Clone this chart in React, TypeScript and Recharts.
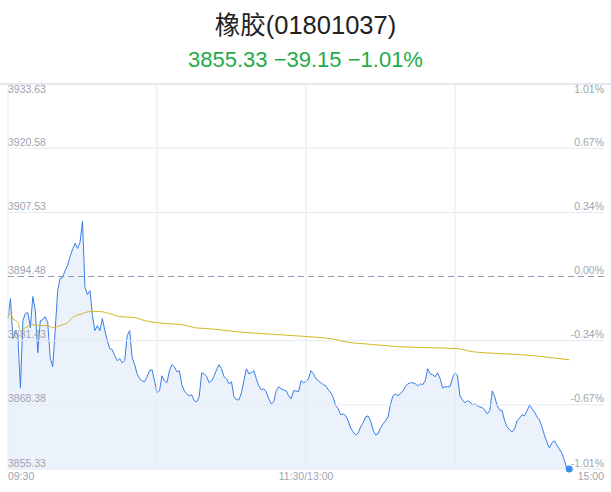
import {
  ComposedChart,
  Area,
  Line,
  XAxis,
  YAxis,
  ReferenceLine,
  ReferenceDot,
} from "recharts";

const title = "橡胶(01801037)";
const subtitle = "3855.33 −39.15 −1.01%";

const prevClose = 3894.48;
const priceTicks = [3855.33, 3868.38, 3881.43, 3894.48, 3907.53, 3920.58, 3933.63];
const pctLabels = ["-1.01%", "-0.67%", "-0.34%", "0.00%", "0.34%", "0.67%", "1.01%"];
const timeTicks = [0, 120, 240];
const timeLabels = ["09:30", "11:30/13:00", "15:00"];
const gridMinutes = [0, 60, 120, 180];

// one value per minute from 09:30
const prices = [
  3885.92, 3889.99, 3881.84, 3883.47, 3882.24, 3871.85, 3885.51, 3886.93, 3887.14, 3884.08,
  3890.4, 3887.55, 3878.98, 3885.51, 3885.71, 3886.32, 3885.1, 3877.96, 3876.13, 3883.47,
  3891.62, 3894.07, 3894.27, 3895.7, 3896.72, 3898.56, 3899.98, 3901.21, 3900.19, 3901.41,
  3905.69, 3892.24, 3890.81, 3891.62, 3886.53, 3883.47, 3884.49, 3883.47, 3885.92, 3883.47,
  3881.43, 3879.8, 3879.59, 3878.37, 3877.35, 3877.76, 3876.94, 3877.35, 3882.45, 3883.47,
  3877.96, 3876.54, 3874.7, 3873.68, 3873.27, 3873.07, 3874.09, 3875.31, 3875.52, 3873.27,
  3870.83, 3871.23, 3874.29, 3873.27, 3872.87, 3875.31, 3876.54, 3876.13, 3875.11, 3875.31,
  3872.46, 3871.23, 3870.62, 3870.21, 3870.42, 3869.2, 3868.99, 3870.01, 3874.9, 3874.7,
  3874.09, 3872.87, 3873.27, 3874.29, 3875.52, 3876.54, 3875.72, 3874.09, 3873.68, 3872.66,
  3873.07, 3870.01, 3869.4, 3869.4, 3870.83, 3873.27, 3875.72, 3874.7, 3874.9, 3875.31,
  3873.68, 3872.25, 3871.44, 3871.64, 3871.03, 3869.6, 3868.58, 3868.99, 3871.23, 3872.05,
  3871.64, 3871.44, 3871.23, 3870.21, 3869.6, 3871.23, 3871.23, 3871.03, 3873.27, 3872.87,
  3873.07, 3873.68, 3875.31, 3874.7, 3873.68, 3873.27, 3872.87, 3872.46, 3872.25, 3871.44,
  3870.83, 3869.81, 3868.18, 3867.56, 3866.34, 3866.54, 3866.14, 3865.12, 3863.69, 3862.87,
  3862.26, 3862.67, 3863.89, 3864.71, 3865.93, 3866.14, 3865.12, 3863.28, 3862.26, 3862.47,
  3863.69, 3864.51, 3865.12, 3865.93, 3868.38, 3870.21, 3870.62, 3870.21, 3870.62, 3871.23,
  3872.05, 3872.66, 3872.87, 3872.87, 3872.66, 3872.25, 3872.66, 3872.46, 3873.27, 3875.72,
  3874.7, 3874.5, 3874.09, 3874.9, 3873.68, 3871.85, 3872.05, 3872.05, 3872.05, 3873.88,
  3874.9, 3874.29, 3870.21, 3869.4, 3868.79, 3869.2, 3868.99, 3868.38, 3868.58, 3868.18,
  3867.97, 3867.77, 3867.36, 3866.54, 3867.16, 3871.23, 3870.01, 3868.18, 3867.36, 3867.16,
  3865.12, 3863.89, 3863.28, 3862.87, 3863.49, 3865.12, 3865.73, 3866.34, 3866.14, 3867.16,
  3868.38, 3867.56, 3866.95, 3865.93, 3865.32, 3863.89, 3862.26, 3860.84, 3859.61, 3860.63,
  3861.04, 3860.22, 3859.41, 3858.59, 3857.17, 3855.53, 3855.33,
];

// average price line, read at these minutes
const avgMinutes = [
  0, 1, 2, 4, 5, 7, 9, 10, 13, 16, 18, 21, 24, 26, 30, 33, 37, 41, 45, 51, 55, 60, 64, 70,
  75, 80, 85, 88, 109, 121, 130, 138, 143, 157, 170, 181, 187, 199, 212, 219, 226,
];
const avgValues = [
  3886.32, 3886.93, 3885.92, 3885.1, 3883.47, 3884.08, 3884.49, 3884.69, 3884.49, 3884.49,
  3884.08, 3884.49, 3885.1, 3886.12, 3886.93, 3887.34, 3887.34, 3886.93, 3886.32, 3886.12,
  3885.51, 3885.1, 3884.9, 3884.69, 3884.08, 3883.88, 3883.67, 3883.47, 3882.65, 3882.24,
  3881.84, 3881.02, 3880.82, 3880.21, 3880.0, 3879.8, 3879.19, 3878.78, 3878.37, 3877.96,
  3877.56,
];

const data = prices.map((price, t) => {
  const k = avgMinutes.indexOf(t);
  return { t, price, avg: k >= 0 ? avgValues[k] : null };
});

const lastT = prices.length - 1;
const labelFont = '"Liberation Sans", Arial, sans-serif';
const labelColor = "#9ea4b0";
const gridColor = "#e6e9ef";

function PriceTick(props: any) {
  const { y, payload } = props;
  const i = priceTicks.indexOf(payload.value);
  const ty = i === priceTicks.length - 1 ? y + 8.5 : y - 2.5;
  return (
    <g>
      <text x={8} y={ty} fontSize={10.5} fill={labelColor} fontFamily={labelFont} textAnchor="start">
        {payload.value.toFixed(2)}
      </text>
      <text x={604} y={ty} fontSize={10.5} fill={labelColor} fontFamily={labelFont} textAnchor="end">
        {pctLabels[i]}
      </text>
    </g>
  );
}

function TimeTick(props: any) {
  const { x, payload } = props;
  const i = timeTicks.indexOf(payload.value);
  const anchor = i === 0 ? "start" : i === timeTicks.length - 1 ? "end" : "middle";
  return (
    <text x={x} y={480} fontSize={10.5} fill={labelColor} fontFamily={labelFont} textAnchor={anchor}>
      {timeLabels[i]}
    </text>
  );
}

export default function App() {
  return (
    <div style={{ position: "absolute", left: 0, top: 0, width: 611, height: 492, background: "#fff" }}>
      <div
        style={{
          position: "absolute",
          top: 8,
          width: 611,
          textAlign: "center",
          fontSize: 25.5,
          lineHeight: "34px",
          color: "#222",
          fontFamily: '"Liberation Sans", "Noto Sans CJK SC", sans-serif',
        }}
      >
        {title}
      </div>
      <div
        style={{
          position: "absolute",
          top: 46,
          width: 611,
          textAlign: "center",
          fontSize: 22,
          lineHeight: "28px",
          color: "#1fab48",
          fontFamily: '"Liberation Sans", sans-serif',
        }}
      >
        {subtitle}
      </div>
      <div style={{ position: "absolute", top: 83, left: 0, width: 611, height: 2, background: "#e4e6eb" }} />
      <div style={{ position: "absolute", top: 0, left: 0 }}>
        <ComposedChart width={611} height={492} data={data} margin={{ top: 84, right: 7, bottom: 3, left: 8 }}>
          <XAxis
            dataKey="t"
            type="number"
            domain={[0, 240]}
            ticks={timeTicks}
            interval={0}
            axisLine={false}
            tickLine={false}
            height={20}
            tick={TimeTick}
          />
          <YAxis
            domain={[priceTicks[0], priceTicks[priceTicks.length - 1]]}
            ticks={priceTicks}
            interval={0}
            mirror
            axisLine={false}
            tickLine={false}
            tick={PriceTick}
          />
          {priceTicks
            .filter((v) => v !== prevClose)
            .map((v) => (
              <ReferenceLine key={`h-${v}`} y={v} stroke={gridColor} strokeWidth={1} />
            ))}
          {gridMinutes.map((m) => (
            <ReferenceLine key={`v-${m}`} x={m} stroke={gridColor} strokeWidth={1} />
          ))}
          <ReferenceLine y={prevClose} stroke="#8d9bb5" strokeDasharray="6 4" strokeWidth={1} />
          <Area
            type="linear"
            dataKey="price"
            stroke="#3a7de6"
            strokeWidth={1}
            fill="#3a7de6"
            fillOpacity={0.1}
            dot={false}
            activeDot={false}
            isAnimationActive={false}
          />
          <Line
            type="monotone"
            dataKey="avg"
            stroke="#d4b81e"
            strokeWidth={1}
            dot={false}
            activeDot={false}
            connectNulls
            isAnimationActive={false}
          />
          <ReferenceDot x={lastT} y={prices[lastT]} r={3.5} fill="#3d8ef0" stroke="none" />
        </ComposedChart>
      </div>
    </div>
  );
}
